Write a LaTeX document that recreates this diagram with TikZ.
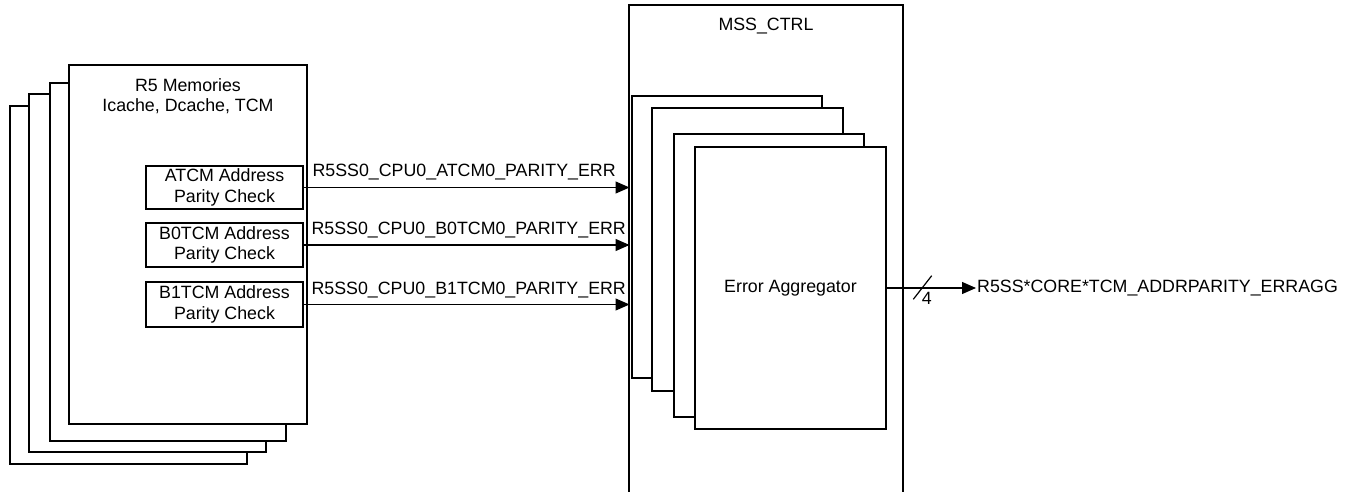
\documentclass[tikz,border=0pt]{standalone}
\usepackage{fontspec}
\setmainfont{Liberation Sans}
\usetikzlibrary{arrows.meta,calc}
\begin{document}
\begin{tikzpicture}[x=1pt,y=-1pt,
  font=\fontsize{17.8}{20.7}\selectfont,
  blk/.style={draw, line width=2.7pt, fill=white, anchor=north west, inner sep=0pt, outer sep=0pt},
  chk/.style={draw, line width=2.7pt, fill=white, anchor=north west, inner sep=0pt, outer sep=0pt, align=center},
  sig/.style={line width=1.2pt, -{Triangle[length=14pt 0 0,width=12pt 0 0]}},
  lbl/.style={inner sep=0pt, anchor=base west},
  txt/.style={inner sep=0pt, align=center},
]
\useasboundingbox (0,0) rectangle (1350,492);

% ---- left memory stack ----
\node[blk, minimum width=237pt, minimum height=358pt] (mem4) at (10,106) {};
\node[blk, minimum width=237pt, minimum height=358pt] (mem3) at (29,94) {};
\node[blk, minimum width=236pt, minimum height=358pt] (mem2) at (50,83) {};
\node[blk, minimum width=238pt, minimum height=359pt] (mem1) at (69,65) {};
\node[txt] (memtitle) at (188,96.3) {R5 Memories\\Icache, Dcache, TCM};

\node[chk, minimum width=157pt, minimum height=43pt] (atcm) at (146,166) {ATCM Address\\Parity Check};
\node[chk, minimum width=157pt, minimum height=44pt] (b0tcm) at (146,223) {B0TCM Address\\Parity Check};
\node[chk, minimum width=157pt, minimum height=45pt] (b1tcm) at (146,282) {B1TCM Address\\Parity Check};

% ---- MSS_CTRL ----
\node[draw=none, anchor=north west, inner sep=0pt, outer sep=0pt, minimum width=274pt, minimum height=500pt] (mss) at (629,5) {};
\draw[line width=2.7pt] (mss.south west) -- (mss.north west) -- (mss.north east) -- (mss.south east);
\node[txt] (msstitle) at (766,26) {MSS\_CTRL};

\node[blk, minimum width=190pt, minimum height=282pt] (agg1) at (632,96) {};
\node[blk, minimum width=191pt, minimum height=283pt] (agg2) at (652,108) {};
\node[blk, minimum width=190pt, minimum height=283pt] (agg3) at (674,134) {};
\node[blk, minimum width=191pt, minimum height=282pt] (agg4) at (695,147) {Error Aggregator};

% ---- signals ----
\draw[sig, shorten >=2.5pt] (atcm.east) -- (atcm.east -| agg1.west)
  node[lbl, pos=0, xshift=9pt, yshift=10.5pt] {R5SS0\_CPU0\_ATCM0\_PARITY\_ERR};
\draw[sig, shorten >=2.5pt] (b0tcm.east) -- (b0tcm.east -| agg1.west)
  node[lbl, pos=0, xshift=8pt, yshift=10.5pt] {R5SS0\_CPU0\_B0TCM0\_PARITY\_ERR};
\draw[sig, shorten >=2.5pt] (b1tcm.east) -- (b1tcm.east -| agg1.west)
  node[lbl, pos=0, xshift=8pt, yshift=10.5pt] {R5SS0\_CPU0\_B1TCM0\_PARITY\_ERR};

% ---- output ----
\node[inner sep=0pt, anchor=west] (out) at (977,288) {R5SS*CORE*TCM\_ADDRPARITY\_ERRAGG};
\draw[sig, shorten >=1pt] (agg4.east) -- (out.west);
\coordinate (s1) at (913.3,299.3);
\coordinate (s2) at (931.7,275.7);
\draw[line width=1.2pt] (s1) -- (s2);
\node[inner sep=0pt] (bus4) at (926.7,298) {4};
\end{tikzpicture}
\end{document}
